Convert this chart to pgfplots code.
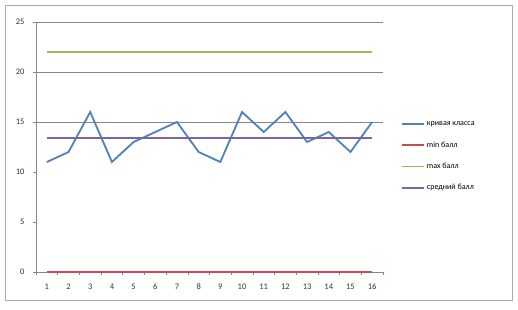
\documentclass[border=0pt]{standalone}
\usepackage{fontspec}
\setmainfont{Carlito}
\usepackage{pgfplots}
\pgfplotsset{compat=1.18}
\definecolor{cblue}{HTML}{4F81BD}
\definecolor{cred}{HTML}{C0504D}
\definecolor{cgreen}{HTML}{9BBB59}
\definecolor{cpurple}{HTML}{8064A2}
\definecolor{cgrid}{HTML}{868686}
\begin{document}
\begin{tikzpicture}[x=1pt,y=1pt]
\fill[white] (0,0) rectangle (518,309);
\draw[cgrid!70, line width=1pt] (5,9) rectangle (512,304);
\begin{axis}[
  at={(36pt,37pt)}, anchor=south west,
  scale only axis, width=347pt, height=250pt,
  xmin=0.5, xmax=16.5, ymin=0, ymax=25,
  axis x line*=bottom, axis y line*=left,
  axis line style={cgrid, line width=0.8pt, -},
  xtick={1,...,16},
  minor xtick={0.5,1.5,...,16.5},
  ytick={0,5,...,25},
  extra y ticks={15,20,25},
  extra y tick labels={},
  extra y tick style={grid=major, major tick length=0pt},
  grid style={cgrid, line width=0.8pt},
  tick style={cgrid, line width=0.6pt},
  major x tick style={draw=none},
  minor tick length=3pt,
  major tick length=3pt,
  tick align=outside,
  ticklabel style={font=\fontsize{8.5}{9}\selectfont, text=black!80},
  xticklabel style={text height=6pt, text depth=0pt, yshift=-5pt},
  yticklabel style={xshift=-5pt},
  /pgf/number format/assume math mode=true,
  legend style={at={(1.043,0.462)}, anchor=west, draw=none, fill=none,
    font=\fontsize{8}{9}\selectfont, row sep=10.5pt,
    legend cell align=left},
  legend image code/.code={\draw[#1] (0pt,0pt) -- (22pt,0pt);},
]
\addplot[cblue, line width=1.8pt] coordinates {
(1,11)(2,12)(3,16)(4,11)(5,13)(6,14)(7,15)(8,12)(9,11)(10,16)(11,14)(12,16)(13,13)(14,14)(15,12)(16,15)};
\addlegendentry{кривая класса}
\addplot[cred, line width=1.8pt] coordinates {
(1,0)(2,0)(3,0)(4,0)(5,0)(6,0)(7,0)(8,0)(9,0)(10,0)(11,0)(12,0)(13,0)(14,0)(15,0)(16,0)};
\addlegendentry{min балл}
\addplot[cgreen, line width=1.8pt] coordinates {
(1,22)(2,22)(3,22)(4,22)(5,22)(6,22)(7,22)(8,22)(9,22)(10,22)(11,22)(12,22)(13,22)(14,22)(15,22)(16,22)};
\addlegendentry{max балл}
\addplot[cpurple, line width=1.8pt] coordinates {
(1,13.44)(2,13.44)(3,13.44)(4,13.44)(5,13.44)(6,13.44)(7,13.44)(8,13.44)(9,13.44)(10,13.44)(11,13.44)(12,13.44)(13,13.44)(14,13.44)(15,13.44)(16,13.44)};
\addlegendentry{средний балл}
\end{axis}
\end{tikzpicture}
\end{document}
